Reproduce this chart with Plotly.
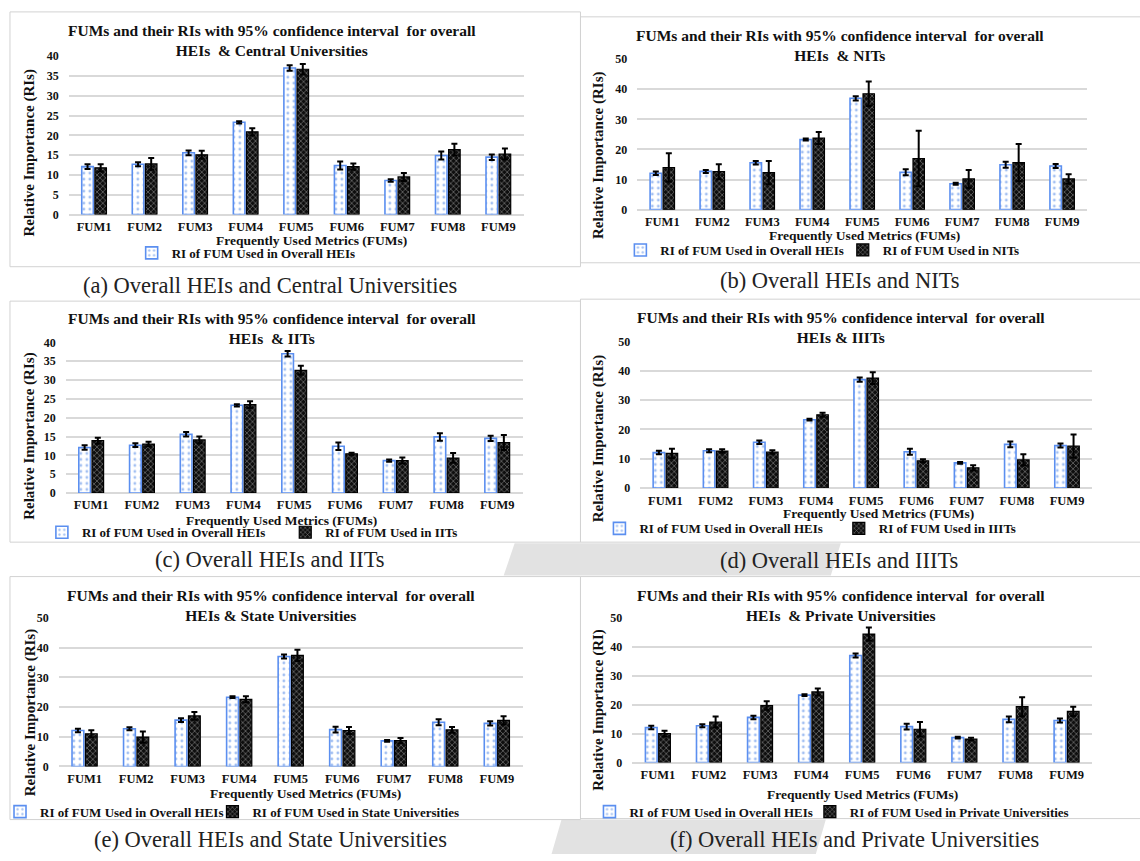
import plotly.graph_objects as go

# ---- data: relative importance (RI) of each frequently used metric, with 95% CI half-widths ----
fums = ["FUM1", "FUM2", "FUM3", "FUM4", "FUM5", "FUM6", "FUM7", "FUM8", "FUM9"]

overall_ri = [12.1, 12.7, 15.6, 23.3, 37.0, 12.4, 8.6, 14.9, 14.5]
overall_ci = [0.6, 0.5, 0.6, 0.3, 0.7, 1.0, 0.3, 1.0, 0.7]

central_ri = [11.8, 12.8, 15.1, 20.9, 36.7, 12.1, 9.5, 16.4, 15.3]
central_ci = [0.9, 1.5, 1.0, 0.9, 1.3, 0.8, 1.0, 1.5, 1.4]

nit_ri = [14.0, 12.6, 12.3, 23.8, 38.5, 17.0, 10.2, 15.6, 10.2]
nit_ci = [4.7, 2.5, 3.9, 2.0, 4.1, 9.2, 3.0, 6.2, 1.6]

iit_ri = [13.9, 13.0, 14.1, 23.5, 32.6, 10.4, 8.6, 9.3, 13.4]
iit_ci = [0.8, 0.6, 0.9, 0.9, 1.2, 0.3, 0.8, 1.3, 2.0]

iiit_ri = [11.8, 12.6, 12.3, 25.0, 37.5, 9.3, 6.9, 9.6, 14.3]
iiit_ci = [1.6, 0.6, 0.6, 0.7, 2.0, 0.5, 0.9, 1.9, 4.0]

state_ri = [11.0, 9.9, 17.0, 22.6, 37.4, 12.1, 8.7, 12.3, 15.5]
state_ci = [1.2, 1.9, 1.3, 1.0, 1.9, 1.2, 0.9, 1.0, 1.4]

private_ri = [10.0, 14.0, 19.7, 24.4, 44.4, 11.5, 8.1, 19.3, 17.7]
private_ci = [1.0, 1.9, 1.5, 1.2, 2.3, 2.5, 0.5, 3.3, 1.6]

# ---- page geometry ----
W, H = 1140, 861
SERIF = "Liberation Serif, Times New Roman, serif"


def px(x):
    return x / W


def py(y):
    return 1 - y / H


panels = [
    dict(short="Central Universities", ri=central_ri, ci=central_ci,
         ymax=40, dtick=5, plot=(66, 522, 50, 211), box=(7, 579, 5, 264),
         title2="HEIs\u00a0 & Central Universities", title_xy=(270, 34),
         xt_xy=(309, 237), yt_xy=(27, 148), ytitle="Relative Importance (RIs)",
         caption="(a) Overall HEIs and Central Universities", cap_xy=(268, 283),
         leg=[(169, 250), None]),
    dict(short="NITs", ri=nit_ri, ci=nit_ci,
         ymax=50, dtick=10, plot=(636, 1087, 53, 206), box=(579, 1145, 10, 260),
         title2="HEIs\u00a0 & NITs", title_xy=(839, 39),
         xt_xy=(864, 232), yt_xy=(597, 151), ytitle="Relative Importance (RIs)",
         caption="(b) Overall HEIs and NITs", cap_xy=(839, 278),
         leg=[(659, 247), (882, 247)]),
    dict(short="IITs", ri=iit_ri, ci=iit_ci,
         ymax=40, dtick=5, plot=(63, 521, 341, 494), box=(7, 579, 299, 544),
         title2="HEIs\u00a0 & IITs", title_xy=(270, 327),
         xt_xy=(279, 522), yt_xy=(27, 436), ytitle="Relative Importance (RIs)",
         caption="(c) Overall HEIs and IITs", cap_xy=(268, 562),
         leg=[(79, 534), (323, 534)]),
    dict(short="IIITs", ri=iiit_ri, ci=iiit_ci,
         ymax=50, dtick=10, plot=(639, 1092, 340, 489), box=(579, 1145, 297, 544),
         title2="HEIs & IIITs", title_xy=(840, 326),
         xt_xy=(878, 515), yt_xy=(597, 439), ytitle="Relative Importance (RIs)",
         caption="(d) Overall HEIs and IIITs", cap_xy=(838, 563),
         leg=[(638, 530), (878, 530)]),
    dict(short="State Universities", ri=state_ri, ci=state_ci,
         ymax=50, dtick=10, plot=(56, 521, 621, 772), box=(7, 579, 579, 826),
         title2="HEIs & State Universities", title_xy=(269, 608),
         xt_xy=(303, 799), yt_xy=(27, 717), ytitle="Relative Importance (RIs)",
         caption="(e) Overall HEIs and State Universities", cap_xy=(268, 846),
         leg=[(37, 818), (250, 818)]),
    dict(short="Private Universities", ri=private_ri, ci=private_ci,
         ymax=50, dtick=10, plot=(631, 1092, 621, 768), box=(579, 1145, 579, 825),
         title2="HEIs\u00a0 & Private Universities", title_xy=(840, 608),
         xt_xy=(862, 801), yt_xy=(597, 714), ytitle="Relative Importance (RI)",
         caption="(f) Overall HEIs and Private Universities", cap_xy=(854, 846),
         leg=[(628, 818), (849, 818)]),
]

BLUE_LINE = "#5b8ff0"
BLUE_DOT = "#a3c0f2"
DARK_BG = "#0e0e0e"
DARK_FG = "#7c7c7c"
GRID = "#d9d9d9"

fig = go.Figure()
layout = dict(
    width=W, height=H, margin=dict(l=0, r=0, t=0, b=0),
    paper_bgcolor="white", plot_bgcolor="rgba(0,0,0,0)",
    barmode="group", bargap=0.48, bargroupgap=0.12,
    font=dict(family=SERIF, color="#111"),
    annotations=[], shapes=[],
)

# faint grey bands behind two caption rows
layout["shapes"].append(dict(type="path", xref="paper", yref="paper", layer="below",
                             path=f"M {px(513)},{py(545)} L {px(840)},{py(545)} L {px(830)},{py(578)} L {px(502)},{py(578)} Z",
                             fillcolor="#e2e2e2", line=dict(width=0)))
layout["shapes"].append(dict(type="path", xref="paper", yref="paper", layer="below",
                             path=f"M {px(560)},{py(826)} L {px(825)},{py(826)} L {px(815)},{py(861)} L {px(550)},{py(861)} Z",
                             fillcolor="#e2e2e2", line=dict(width=0)))

leg_n = 0
for i, p in enumerate(panels, start=1):
    xa = "x" if i == 1 else f"x{i}"
    ya = "y" if i == 1 else f"y{i}"
    x0, x1, ytop, ybot = p["plot"]

    series = [
        dict(name="RI of FUM Used in Overall HEIs", ri=overall_ri, ci=overall_ci,
             marker=dict(color="white", line=dict(color=BLUE_LINE, width=1.6),
                         pattern=dict(shape=".", fillmode="replace", bgcolor="white",
                                      fgcolor=BLUE_DOT, size=6, solidity=0.18))),
        dict(name=f"RI of FUM Used in {p['short']}", ri=p["ri"], ci=p["ci"],
             marker=dict(color=DARK_BG, line=dict(color="#000", width=1.2),
                         pattern=dict(shape="x", fillmode="replace", bgcolor=DARK_BG,
                                      fgcolor=DARK_FG, size=4, solidity=0.3))),
    ]
    for s, pos in zip(series, p["leg"]):
        tr = dict(x=fums, y=s["ri"], name=s["name"], xaxis=xa, yaxis=ya,
                  marker=s["marker"],
                  error_y=dict(type="data", array=s["ci"], visible=True,
                               color="#000", thickness=2, width=3),
                  hoverinfo="x+y")
        if pos is None:
            tr["showlegend"] = False
        else:
            leg_n += 1
            lname = "legend" if leg_n == 1 else f"legend{leg_n}"
            tr["legend"] = lname
            layout[lname] = dict(x=px(pos[0] - 40), y=py(pos[1]), xanchor="left", yanchor="middle",
                                 orientation="h", bgcolor="rgba(0,0,0,0)", borderwidth=0,
                                 itemwidth=30, font=dict(family=SERIF, size=13, weight="bold", color="#111"))
        fig.add_trace(go.Bar(**tr))

    layout["xaxis" if i == 1 else f"xaxis{i}"] = dict(
        domain=[px(x0), px(x1)], anchor=ya, type="category", range=[-0.5, 8.5],
        showgrid=False, zeroline=False, showline=False, ticks="",
        tickfont=dict(family=SERIF, size=12.5, weight="bold", color="#111"),
        ticklabelstandoff=3, fixedrange=True)
    layout["yaxis" if i == 1 else f"yaxis{i}"] = dict(
        domain=[py(ybot), py(ytop)], anchor=xa, range=[0, p["ymax"]], dtick=p["dtick"],
        showgrid=True, gridcolor=GRID, gridwidth=1.5, zeroline=True, zerolinecolor=GRID,
        zerolinewidth=1.5, showline=False, ticks="",
        tickfont=dict(family=SERIF, size=12, weight="bold", color="#111"),
        ticklabelstandoff=9, fixedrange=True)

    # panel frame
    bx0, bx1, by0, by1 = p["box"]
    layout["shapes"].append(dict(type="rect", xref="paper", yref="paper",
                                 x0=px(bx0), x1=px(bx1), y0=py(by1), y1=py(by0),
                                 line=dict(color="#d2d2d2", width=1), layer="below"))

    tx, ty = p["title_xy"]
    layout["annotations"].append(dict(
        text="<b>FUMs and their RIs with 95% confidence interval\u00a0 for overall<br>" + p["title2"] + "</b>",
        x=px(tx), y=py(ty), xref="paper", yref="paper", showarrow=False,
        xanchor="center", yanchor="middle", align="center",
        font=dict(family=SERIF, size=15.5, color="#111")))
    xtx, xty = p["xt_xy"]
    layout["annotations"].append(dict(
        text="<b>Frequently Used Metrics (FUMs)</b>", x=px(xtx), y=py(xty),
        xref="paper", yref="paper", showarrow=False, xanchor="center", yanchor="middle",
        font=dict(family=SERIF, size=13.5, color="#111")))
    ytx, yty = p["yt_xy"]
    layout["annotations"].append(dict(
        text="<b>" + p["ytitle"] + "</b>", x=px(ytx), y=py(yty), textangle=-90,
        xref="paper", yref="paper", showarrow=False, xanchor="center", yanchor="middle",
        font=dict(family=SERIF, size=15, color="#111")))
    cx, cy = p["cap_xy"]
    layout["annotations"].append(dict(
        text=p["caption"], x=px(cx), y=py(cy), xref="paper", yref="paper", showarrow=False,
        xanchor="center", yanchor="middle",
        font=dict(family=SERIF, size=22.5, color="#222")))

fig.update_layout(**layout)
fig.write_html("out.html")
